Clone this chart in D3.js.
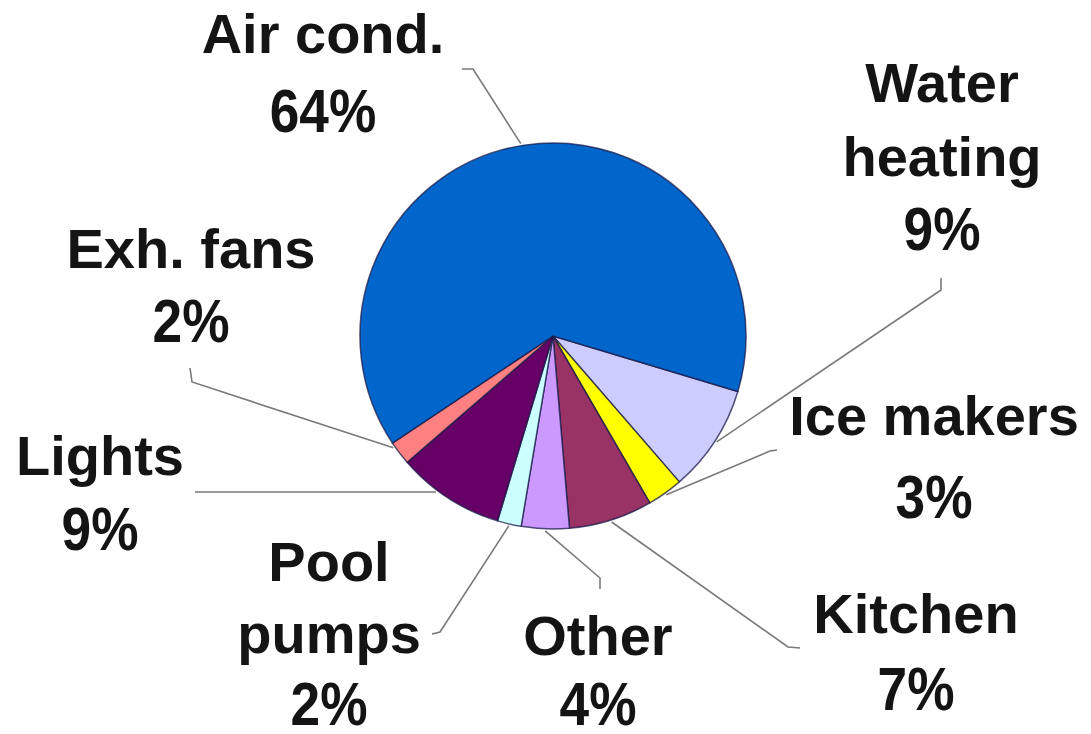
<!DOCTYPE html>
<html>
<head>
<meta charset="utf-8">
<script src="https://cdn.jsdelivr.net/npm/d3@7"></script>
<style>
  body { margin: 0; background: #fff; }
  text { font-family: "Liberation Sans", Arial, sans-serif; font-weight: bold; fill: #141414; }
</style>
</head>
<body>
<div id="chart"></div>
<script>
// slice order follows the picture, clockwise from the air cond. / water heating edge
var categories = ["Water\nheating", "Ice makers", "Kitchen", "Other", "Pool\npumps", "Lights", "Exh. fans", "Air cond."];
var values = [9, 3, 7, 4, 2, 9, 2, 64];
var colors = ["#ccccff", "#ffff00", "#993366", "#cc99ff", "#ccffff", "#660066", "#ff8080", "#0066cc"];

// label placement (center x, first baseline y, line step) and leader elbows
var labelLayout = [
    {x: 942, y: 102, step: 74, elbow: [941, 290], end: [941, 278]},
    {x: 934, y: 435, step: 83, elbow: [770, 451], end: [777, 450]},
    {x: 916, y: 633, step: 77, elbow: [788, 647], end: [800, 648]},
    {x: 598, y: 655, step: 70, elbow: [600, 578], end: [600, 589]},
    {x: 329, y: 581, step: 72, elbow: [440, 632], end: [432, 634]},
    {x: 100, y: 475, step: 75, elbow: [300, 492], end: [195, 492], angle: 216.9},
    {x: 191, y: 268, step: 74, elbow: [192, 382], end: [190, 368], angle: 235},
    {x: 323, y: 53, step: 79, elbow: [473, 69], end: [462, 69], angle: 350.5}
];

var width = 1091, height = 734;
var cx = 553, cy = 336, radius = 193;
var start = 106.7 * Math.PI / 180;

var svg = d3.select('#chart').append('svg')
    .attr('width', width)
    .attr('height', height);

var pie = d3.pie()
    .sort(null)
    .value(function(d) { return d; })
    .startAngle(start)
    .endAngle(start + 2 * Math.PI);

var arc = d3.arc().innerRadius(0).outerRadius(radius);

var arcs = pie(values);

var g = svg.append('g').attr('transform', 'translate(' + cx + ',' + cy + ')');

g.selectAll('path.slice')
    .data(arcs)
    .enter()
    .append('path')
    .attr('class', 'slice')
    .attr('d', arc)
    .attr('fill', function(d, i) { return colors[i]; })
    .attr('stroke', '#1b1b4a')
    .attr('stroke-opacity', 0.75)
    .attr('stroke-width', 1.5)
    .attr('stroke-linejoin', 'round');

// leader lines: from the pie rim to the label
var leaders = svg.append('g').attr('id', 'leaders');
arcs.forEach(function(d, i) {
    var lay = labelLayout[i];
    var a = (lay.angle !== undefined) ? lay.angle * Math.PI / 180 : (d.startAngle + d.endAngle) / 2;
    var p0 = [cx + (radius + 2) * Math.sin(a), cy - (radius + 2) * Math.cos(a)];
    leaders.append('polyline')
        .attr('points', [p0, lay.elbow, lay.end].map(function(p) { return p.join(','); }).join(' '))
        .attr('fill', 'none')
        .attr('stroke', '#7a7a7a')
        .attr('stroke-width', 1.6);
});

// labels
var labels = svg.append('g').attr('id', 'labels');
categories.forEach(function(c, i) {
    var lay = labelLayout[i];
    var lines = c.split('\n');
    var t = labels.append('g');
    lines.forEach(function(s, k) {
        t.append('text')
            .attr('x', lay.x)
            .attr('y', lay.y + k * lay.step)
            .attr('text-anchor', 'middle')
            .style('font-size', '56px')
            .text(s);
    });
    var py = lay.y + lines.length * lay.step;
    t.append('text')
        .attr('transform', 'translate(' + lay.x + ',' + py + ') scale(0.95,1.1)')
        .attr('text-anchor', 'middle')
        .style('font-size', '56px')
        .text(values[i] + '%');
});
</script>
</body>
</html>
